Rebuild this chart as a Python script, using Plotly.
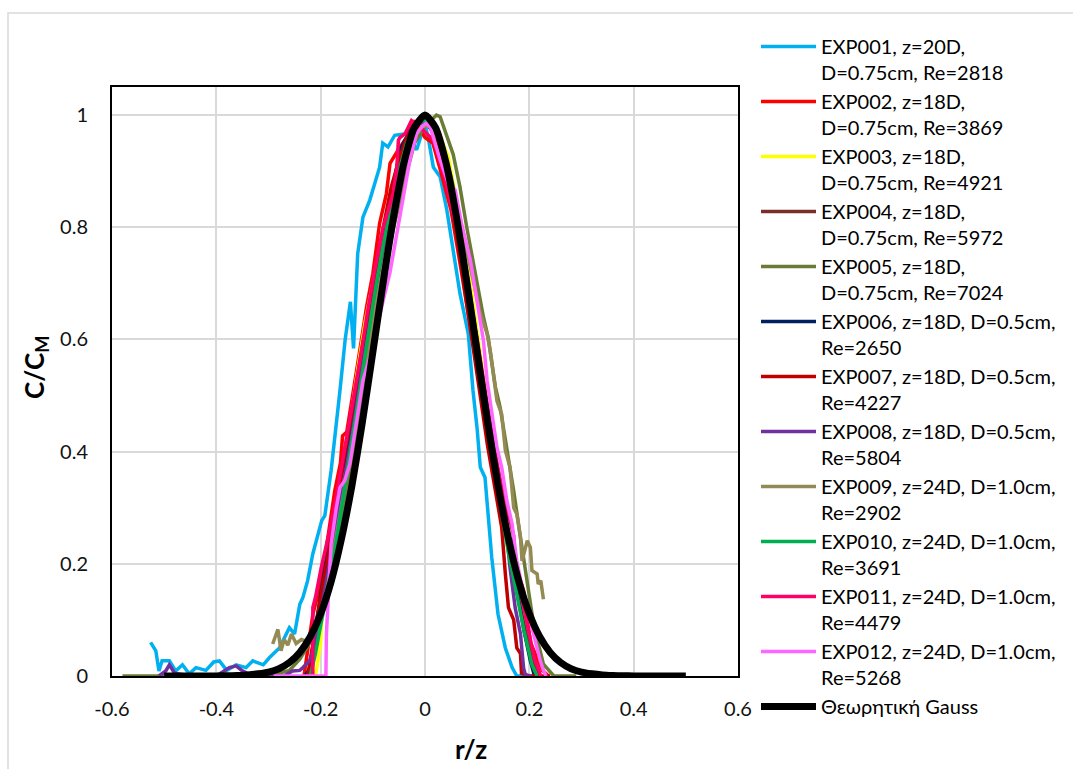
import plotly.graph_objects as go

# ---------------- data ----------------
names = [
    "EXP001, z=20D,<br>D=0.75cm, Re=2818",
    "EXP002, z=18D,<br>D=0.75cm, Re=3869",
    "EXP003, z=18D,<br>D=0.75cm, Re=4921",
    "EXP004, z=18D,<br>D=0.75cm, Re=5972",
    "EXP005, z=18D,<br>D=0.75cm, Re=7024",
    "EXP006, z=18D, D=0.5cm,<br>Re=2650",
    "EXP007, z=18D, D=0.5cm,<br>Re=4227",
    "EXP008, z=18D, D=0.5cm,<br>Re=5804",
    "EXP009, z=24D, D=1.0cm,<br>Re=2902",
    "EXP010, z=24D, D=1.0cm,<br>Re=3691",
    "EXP011, z=24D, D=1.0cm,<br>Re=4479",
    "EXP012, z=24D, D=1.0cm,<br>Re=5268",
]
gauss_name = "Θεωρητική Gauss"

exp001_x = [-0.526, -0.516, -0.51, -0.504, -0.49, -0.478, -0.465, -0.452, -0.439, -0.42, -0.405, -0.394,
            -0.38, -0.362, -0.343, -0.33, -0.31, -0.298, -0.279, -0.26, -0.25, -0.24, -0.234, -0.225,
            -0.215, -0.198, -0.192, -0.18, -0.163, -0.153, -0.143, -0.137, -0.129, -0.119, -0.106, -0.087,
            -0.081, -0.071, -0.058, -0.035, -0.016, -0.006, 0.0, 0.008, 0.016, 0.029, 0.042, 0.054, 0.067,
            0.083, 0.092, 0.1, 0.106, 0.115, 0.128, 0.14, 0.154, 0.167, 0.176, 0.19]
exp001_y = [0.06, 0.045, 0.009, 0.027, 0.027, 0.009, 0.02, 0.004, 0.015, 0.01, 0.025, 0.027,
            0.01, 0.02, 0.015, 0.027, 0.02, 0.033, 0.05, 0.086, 0.075, 0.128, 0.14, 0.17,
            0.218, 0.277, 0.286, 0.366, 0.509, 0.6, 0.667, 0.584, 0.753, 0.818, 0.848, 0.907,
            0.95, 0.943, 0.964, 0.967, 0.938, 0.97, 0.985, 0.95, 0.907, 0.89, 0.83, 0.759, 0.682,
            0.61, 0.509, 0.44, 0.372, 0.354, 0.211, 0.11, 0.05, 0.015, 0.0, 0.0]

exp002_x = [-0.232, -0.227, -0.221, -0.215, -0.202, -0.189, -0.173, -0.162, -0.158, -0.15, -0.125, -0.112,
            -0.1, -0.093, -0.087, -0.074, -0.067, -0.05, -0.035, -0.023, -0.01, 0.0, 0.015, 0.03, 0.05,
            0.07, 0.09, 0.11, 0.13, 0.15, 0.17, 0.189, 0.202, 0.215, 0.225, 0.237]
exp002_y = [0.0, 0.033, 0.075, 0.11, 0.157, 0.229, 0.33, 0.38, 0.428, 0.435, 0.58, 0.658,
            0.717, 0.765, 0.807, 0.86, 0.914, 0.94, 0.96, 0.99, 0.975, 0.96, 0.95, 0.9, 0.83,
            0.72, 0.6, 0.49, 0.39, 0.29, 0.21, 0.152, 0.06, 0.03, 0.01, 0.0]

exp003_x = [-0.21, -0.2, -0.196, -0.185, -0.167, -0.155, -0.144, -0.13, -0.115, -0.1, -0.085, -0.07,
            -0.055, -0.04, -0.025, -0.01, 0.0, 0.015, 0.03, 0.045, 0.06, 0.075, 0.09, 0.105, 0.12,
            0.135, 0.15, 0.165, 0.18, 0.195, 0.21]
exp003_y = [0.0, 0.06, 0.14, 0.2, 0.3, 0.38, 0.455, 0.54, 0.63, 0.7, 0.77, 0.84,
            0.9, 0.94, 0.97, 0.99, 1.0, 0.98, 0.96, 0.925, 0.85, 0.77, 0.68, 0.58, 0.47,
            0.38, 0.29, 0.21, 0.14, 0.07, 0.0]

exp004_x = [-0.22, -0.21, -0.2, -0.185, -0.17, -0.155, -0.14, -0.125, -0.11, -0.095, -0.08, -0.065,
            -0.05, -0.035, -0.02, -0.005, 0.01, 0.025, 0.04, 0.055, 0.07, 0.085, 0.1, 0.115, 0.13,
            0.145, 0.16, 0.175, 0.19, 0.205, 0.22]
exp004_y = [0.0, 0.05, 0.1, 0.17, 0.26, 0.35, 0.44, 0.53, 0.62, 0.7, 0.78, 0.85,
            0.91, 0.95, 0.98, 0.99, 0.98, 0.95, 0.91, 0.85, 0.77, 0.68, 0.59, 0.5, 0.41,
            0.32, 0.24, 0.16, 0.09, 0.03, 0.0]

exp005_x = [-0.58, -0.54, -0.5, -0.45, -0.4, -0.35, -0.3, -0.26, -0.24, -0.22, -0.2, -0.18, -0.16,
            -0.14, -0.12, -0.1, -0.08, -0.06, -0.04, -0.02, 0.0, 0.022, 0.029, 0.054, 0.067, 0.08,
            0.096, 0.112, 0.121, 0.135, 0.144, 0.157, 0.17, 0.183, 0.196, 0.208, 0.227, 0.247, 0.27, 0.29]
exp005_y = [0.0, 0.0, 0.0, 0.0, 0.0, 0.0, 0.0, 0.01, 0.03, 0.06, 0.11, 0.19, 0.28,
            0.38, 0.49, 0.6, 0.71, 0.8, 0.88, 0.95, 0.98, 1.0, 0.997, 0.93, 0.872, 0.8,
            0.717, 0.64, 0.604, 0.515, 0.479, 0.407, 0.33, 0.247, 0.17, 0.093, 0.021, 0.0, 0.0, 0.0]

exp006_x = [-0.23, -0.221, -0.208, -0.196, -0.18, -0.163, -0.151, -0.138, -0.125, -0.119, -0.106, -0.093,
            -0.081, -0.067, -0.048, -0.03, -0.015, 0.0, 0.015, 0.03, 0.05, 0.07, 0.09, 0.11, 0.13,
            0.15, 0.165, 0.18, 0.19, 0.202, 0.21]
exp006_y = [0.0, 0.014, 0.098, 0.17, 0.259, 0.348, 0.396, 0.46, 0.527, 0.593, 0.646, 0.711,
            0.771, 0.848, 0.938, 0.97, 0.99, 0.99, 0.97, 0.93, 0.85, 0.74, 0.62, 0.5, 0.39,
            0.29, 0.21, 0.13, 0.08, 0.027, 0.0]

exp007_x = [-0.225, -0.215, -0.2, -0.185, -0.17, -0.155, -0.14, -0.125, -0.11, -0.095, -0.08, -0.065,
            -0.05, -0.035, -0.02, -0.005, 0.01, 0.025, 0.04, 0.06, 0.08, 0.1, 0.12, 0.135, 0.147,
            0.154, 0.16, 0.17, 0.176, 0.183, 0.185, 0.2, 0.22, 0.24]
exp007_y = [0.0, 0.06, 0.14, 0.22, 0.3, 0.39, 0.47, 0.56, 0.64, 0.72, 0.8, 0.87,
            0.92, 0.96, 0.98, 0.99, 0.98, 0.94, 0.89, 0.79, 0.66, 0.53, 0.41, 0.33, 0.265,
            0.182, 0.122, 0.1, 0.05, 0.04, 0.005, 0.0, 0.0, 0.0]

exp008_x = [-0.51, -0.497, -0.49, -0.48, -0.45, -0.4, -0.375, -0.362, -0.35, -0.33, -0.3, -0.27,
            -0.254, -0.24, -0.234, -0.221, -0.21, -0.2, -0.185, -0.17, -0.155, -0.14, -0.12, -0.1,
            -0.08, -0.06, -0.04, -0.02, 0.0, 0.02, 0.04, 0.06, 0.08, 0.1, 0.12, 0.14, 0.154, 0.163,
            0.173, 0.183, 0.189, 0.193, 0.205]
exp008_y = [0.0, 0.009, 0.02, 0.005, 0.0, 0.0, 0.015, 0.018, 0.009, 0.0, 0.0, 0.0,
            0.009, 0.01, 0.015, 0.027, 0.06, 0.11, 0.19, 0.27, 0.35, 0.43, 0.55, 0.66,
            0.76, 0.85, 0.92, 0.97, 0.99, 0.97, 0.92, 0.83, 0.72, 0.6, 0.47, 0.35, 0.277, 0.193,
            0.121, 0.075, 0.014, 0.0, 0.0]

exp009_x = [-0.292, -0.282, -0.276, -0.27, -0.263, -0.256, -0.247, -0.237, -0.228, -0.215, -0.2, -0.185,
            -0.17, -0.155, -0.14, -0.125, -0.11, -0.09, -0.07, -0.05, -0.03, -0.01, 0.01, 0.03, 0.05,
            0.07, 0.09, 0.105, 0.119, 0.125, 0.138, 0.147, 0.154, 0.163, 0.17, 0.176, 0.183, 0.186,
            0.196, 0.202, 0.205, 0.215, 0.217, 0.222, 0.227]
exp009_y = [0.057, 0.083, 0.045, 0.065, 0.055, 0.075, 0.058, 0.065, 0.062, 0.071, 0.1, 0.17,
            0.25, 0.33, 0.41, 0.5, 0.58, 0.68, 0.78, 0.87, 0.94, 0.98, 0.98, 0.95, 0.89,
            0.8, 0.71, 0.65, 0.61, 0.58, 0.49, 0.467, 0.402, 0.372, 0.3, 0.289, 0.247, 0.205,
            0.241, 0.229, 0.188, 0.182, 0.164, 0.17, 0.137]

exp010_x = [-0.22, -0.21, -0.2, -0.185, -0.17, -0.155, -0.14, -0.125, -0.11, -0.095, -0.08, -0.065,
            -0.05, -0.035, -0.02, -0.005, 0.01, 0.025, 0.04, 0.055, 0.07, 0.085, 0.1, 0.115, 0.13,
            0.145, 0.16, 0.175, 0.19, 0.205, 0.215]
exp010_y = [0.0, 0.04, 0.09, 0.16, 0.24, 0.33, 0.42, 0.51, 0.6, 0.69, 0.77, 0.84,
            0.9, 0.95, 0.98, 0.99, 0.99, 0.96, 0.91, 0.84, 0.76, 0.67, 0.58, 0.48, 0.39,
            0.3, 0.22, 0.15, 0.08, 0.02, 0.0]

exp011_x = [-0.215, -0.215, -0.21, -0.199, -0.185, -0.17, -0.155, -0.14, -0.125, -0.11, -0.095, -0.08,
            -0.061, -0.054, -0.051, -0.048, -0.038, -0.026, -0.015, 0.0, 0.016, 0.026, 0.04, 0.06,
            0.08, 0.1, 0.12, 0.14, 0.155, 0.163, 0.17, 0.173, 0.185, 0.2, 0.21, 0.222]
exp011_y = [0.0, 0.122, 0.14, 0.193, 0.25, 0.32, 0.4, 0.48, 0.56, 0.65, 0.73, 0.8,
            0.86, 0.907, 0.955, 0.96, 0.967, 0.99, 0.98, 0.97, 0.955, 0.925, 0.88, 0.8,
            0.7, 0.6, 0.48, 0.37, 0.3, 0.277, 0.25, 0.2, 0.14, 0.07, 0.03, 0.0]

exp012_x = [-0.29, -0.25, -0.21, -0.19, -0.189, -0.185, -0.18, -0.17, -0.163, -0.154, -0.144, -0.131,
            -0.119, -0.105, -0.093, -0.08, -0.067, -0.054, -0.042, -0.029, -0.016, -0.006, 0.002,
            0.01, 0.029, 0.045, 0.058, 0.07, 0.087, 0.099, 0.112, 0.119, 0.128, 0.138, 0.147, 0.157,
            0.167, 0.176, 0.189, 0.202, 0.212, 0.221, 0.227, 0.232]
exp012_y = [0.0, 0.0, 0.0, 0.0, 0.075, 0.15, 0.235, 0.3, 0.336, 0.348, 0.378, 0.455,
            0.527, 0.57, 0.62, 0.67, 0.72, 0.789, 0.848, 0.92, 0.967, 0.979, 0.985,
            0.979, 0.92, 0.878, 0.866, 0.807, 0.741, 0.67, 0.598, 0.527, 0.467, 0.407, 0.372, 0.312,
            0.271, 0.205, 0.146, 0.098, 0.057, 0.027, 0.01, 0.0]

gauss_x = [-0.50, -0.48, -0.46, -0.44, -0.42, -0.40, -0.38, -0.36, -0.34, -0.32, -0.30, -0.28, -0.26,
           -0.24, -0.22, -0.20, -0.18, -0.16, -0.14, -0.12, -0.10, -0.08, -0.06, -0.04, -0.02, 0.00,
           0.02, 0.04, 0.06, 0.08, 0.10, 0.12, 0.14, 0.16, 0.18, 0.20, 0.22, 0.24, 0.26, 0.28, 0.30,
           0.32, 0.34, 0.36, 0.38, 0.40, 0.42, 0.44, 0.46, 0.48, 0.50]
gauss_y = [0.0, 0.0, 0.0, 0.0, 0.0001, 0.0002, 0.0004, 0.001, 0.002, 0.004, 0.007, 0.013, 0.024,
           0.042, 0.070, 0.111, 0.168, 0.245, 0.340, 0.453, 0.577, 0.703, 0.820, 0.916, 0.978, 1.0,
           0.978, 0.916, 0.820, 0.703, 0.577, 0.453, 0.340, 0.245, 0.168, 0.111, 0.070, 0.042, 0.024,
           0.013, 0.007, 0.004, 0.002, 0.001, 0.0004, 0.0002, 0.0001, 0.0, 0.0, 0.0, 0.0]

x_ticks = [-0.6, -0.4, -0.2, 0, 0.2, 0.4, 0.6]
x_tick_labels = ["-0.6", "-0.4", "-0.2", "0", "0.2", "0.4", "0.6"]
y_ticks = [0, 0.2, 0.4, 0.6, 0.8, 1]
y_tick_labels = ["0", "0.2", "0.4", "0.6", "0.8", "1"]

series_x = [exp001_x, exp002_x, exp003_x, exp004_x, exp005_x, exp006_x,
            exp007_x, exp008_x, exp009_x, exp010_x, exp011_x, exp012_x]
series_y = [exp001_y, exp002_y, exp003_y, exp004_y, exp005_y, exp006_y,
            exp007_y, exp008_y, exp009_y, exp010_y, exp011_y, exp012_y]

# ---------------- style ----------------
colors = ["#00B0F0", "#FF0000", "#FFFF00", "#7A2E2A", "#6A7B36", "#002060",
          "#C00000", "#7030A0", "#948A54", "#00B050", "#FF0066", "#FF66FF"]
FONT = "Lato"
TXT = "#111111"

fig = go.Figure()
for nm, xs, ys, c in zip(names, series_x, series_y, colors):
    fig.add_trace(go.Scatter(x=xs, y=ys, mode="lines", name=nm,
                             line=dict(color=c, width=3.5)))
fig.add_trace(go.Scatter(x=gauss_x, y=gauss_y, mode="lines", name=gauss_name,
                         line=dict(color="black", width=7, shape="spline", smoothing=0.6)))

L, T, R, B = 112, 87, 738, 676
W, H = 1073, 769
pw, ph = R - L, B - T

def px_x(p):
    return (p - L) / pw

def px_y(p):
    return (B - p) / ph

fig.update_layout(
    width=W, height=H,
    margin=dict(l=L, r=W - R, t=T, b=H - B, autoexpand=False),
    paper_bgcolor="white", plot_bgcolor="white",
    font=dict(family=FONT, size=20, color=TXT),
    showlegend=True,
    legend=dict(x=px_x(756), y=px_y(27), xanchor="left", yanchor="top",
                font=dict(family=FONT, size=20, color="black"),
                itemwidth=55, valign="top", bgcolor="rgba(0,0,0,0)",
                tracegroupgap=0),
    xaxis=dict(range=[-0.6, 0.6], tickvals=x_ticks, ticktext=x_tick_labels,
               showgrid=True, gridcolor="#D9D9D9", gridwidth=1.5,
               zeroline=False, showline=True, linecolor="black", linewidth=2,
               mirror=True, ticks="", ticklabelstandoff=14,
               tickfont=dict(family=FONT, size=20, color=TXT)),
    yaxis=dict(range=[0, 1.05], tickvals=y_ticks, ticktext=y_tick_labels,
               showgrid=True, gridcolor="#D9D9D9", gridwidth=1.5,
               zeroline=False, showline=True, linecolor="black", linewidth=2,
               mirror=True, ticks="", ticklabelstandoff=18,
               tickfont=dict(family=FONT, size=20, color=TXT)),
    annotations=[
        dict(text="<b>r/z</b>", xref="paper", yref="paper", x=px_x(471), y=px_y(749),
             xanchor="center", yanchor="middle", showarrow=False,
             font=dict(family=FONT, size=26, color="black")),
        dict(text="<b>C/C<sub>M</sub></b>", xref="paper", yref="paper", x=px_x(36), y=px_y(368),
             xanchor="center", yanchor="middle", showarrow=False, textangle=-90,
             font=dict(family=FONT, size=26, color="black")),
    ],
    shapes=[dict(type="rect", xref="paper", yref="paper",
                 x0=px_x(8), y0=px_y(790), x1=px_x(1090), y1=px_y(13),
                 line=dict(color="#D9D9D9", width=1.5), fillcolor="rgba(0,0,0,0)",
                 layer="below")],
)

# let the legend use the full figure height so that no scrollbar appears
try:
    fig.update_layout(legend=dict(maxheight=1.0))
except (ValueError, TypeError):
    pass

fig.write_html("out.html")
